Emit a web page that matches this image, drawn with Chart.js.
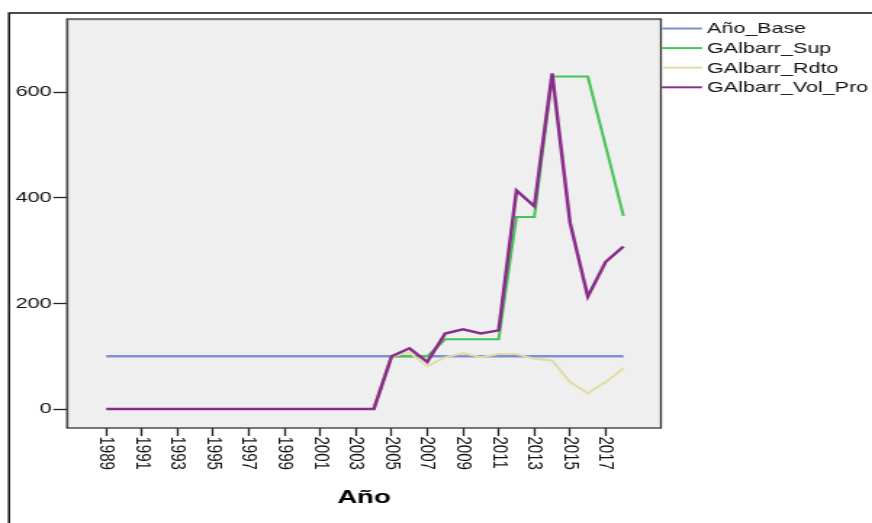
<!DOCTYPE html>
<html>
<head>
<meta charset="utf-8">
<script src="https://cdn.jsdelivr.net/npm/chart.js@4/dist/chart.umd.min.js"></script>
<style>
    html, body { margin: 0; padding: 0; background: #fff; overflow: hidden; }
    /* the reference is stretched sideways, so the whole chart is drawn narrow and widened */
    #wrap { width: 601px; height: 523px; transform: scaleX(1.451); transform-origin: 0 0; }
</style>
</head>
<body>
<div id="wrap"><canvas id="chart"></canvas></div>
<script>
// Years on the x axis
const years = [1989, 1990, 1991, 1992, 1993, 1994, 1995, 1996, 1997, 1998, 1999, 2000, 2001, 2002, 2003,
    2004, 2005, 2006, 2007, 2008, 2009, 2010, 2011, 2012, 2013, 2014, 2015, 2016, 2017, 2018];

// Series values
const anoBase = [100, 100, 100, 100, 100, 100, 100, 100, 100, 100, 100, 100, 100, 100, 100,
    100, 100, 100, 100, 100, 100, 100, 100, 100, 100, 100, 100, 100, 100, 100];
const sup = [0, 0, 0, 0, 0, 0, 0, 0, 0, 0, 0, 0, 0, 0, 0,
    0, 100, 100, 100, 132, 132, 132, 132, 364, 364, 630, 630, 630, 498, 366];
const rdto = [0, 0, 0, 0, 0, 0, 0, 0, 0, 0, 0, 0, 0, 0, 0,
    0, 100, 107, 81, 98, 106, 98, 104, 104, 95, 92, 51, 30, 51, 77];
const volPro = [0, 0, 0, 0, 0, 0, 0, 0, 0, 0, 0, 0, 0, 0, 0,
    0, 100, 115, 89, 143, 151, 143, 149, 414, 384, 636, 353, 213, 279, 308];

// Tick labels
const xTickYears = [1989, 1991, 1993, 1995, 1997, 1999, 2001, 2003, 2005, 2007, 2009, 2011, 2013, 2015, 2017];
const yTicks = [0, 200, 400, 600];

const seriesNames = ['Año_Base', 'GAlbarr_Sup', 'GAlbarr_Rdto', 'GAlbarr_Vol_Pro'];
const seriesColors = ['#7f91d6', '#46c454', '#e2dca4', '#8a2d8a'];
const seriesValues = [anoBase, sup, rdto, volPro];
const seriesWidths = [2.4, 2, 2, 2.5];

const FONT = '"Liberation Sans", Arial, sans-serif';
Chart.defaults.font.family = FONT;

// Plot background, frames, rotated year labels and legend
const decor = {
    id: 'decor',
    beforeDraw(chart) {
        const { ctx, chartArea: a } = chart;
        ctx.save();
        ctx.fillStyle = '#fff';
        ctx.fillRect(0, 0, chart.width, chart.height);
        ctx.fillStyle = '#efefef';
        ctx.fillRect(a.left, a.top, a.right - a.left, a.bottom - a.top);
        ctx.strokeStyle = '#d4d4d4';
        ctx.lineWidth = 1;
        ctx.beginPath();
        ctx.moveTo(a.left + 1.3, a.bottom);
        ctx.lineTo(a.left + 1.3, a.top + 1.3);
        ctx.lineTo(a.right, a.top + 1.3);
        ctx.stroke();
        ctx.restore();
    },
    afterDraw(chart) {
        const { ctx, chartArea: a } = chart;
        ctx.save();
        // outer frame
        ctx.strokeStyle = '#111';
        ctx.lineWidth = 1.5;
        ctx.strokeRect(6.2, 13, 700, 600);
        // plot border
        ctx.strokeStyle = '#333';
        ctx.lineWidth = 1.3;
        ctx.strokeRect(a.left, a.top, a.right - a.left, a.bottom - a.top);

        // year labels, turned clockwise
        const xs = chart.scales.x;
        ctx.fillStyle = '#111';
        ctx.font = '15px ' + FONT;
        ctx.textAlign = 'left';
        ctx.textBaseline = 'middle';
        xTickYears.forEach(yr => {
            ctx.save();
            ctx.translate(xs.getPixelForValue(yr), a.bottom + 8.5);
            ctx.rotate(Math.PI / 2);
            ctx.fillText(String(yr), 0, 0);
            ctx.restore();
        });

        // legend
        ctx.font = '14.8px ' + FONT;
        chart.data.datasets.forEach((ds, i) => {
            const y = 28.5 + i * 19.6;
            ctx.strokeStyle = ds.borderColor;
            ctx.lineWidth = 2;
            ctx.beginPath();
            ctx.moveTo(456.2, y);
            ctx.lineTo(483.8, y);
            ctx.stroke();
            ctx.fillStyle = '#111';
            ctx.fillText(ds.label, 487.3, y + 0.8);
        });
        ctx.restore();
    }
};

new Chart(document.getElementById('chart'), {
    type: 'line',
    data: {
        datasets: seriesNames.map((name, i) => ({
            label: name,
            data: years.map((yr, j) => ({ x: yr, y: seriesValues[i][j] })),
            borderColor: seriesColors[i],
            backgroundColor: seriesColors[i],
            borderWidth: seriesWidths[i],
            pointRadius: 0,
            tension: 0,
            fill: false,
            order: 3 - i
        }))
    },
    options: {
        responsive: true,
        maintainAspectRatio: false,
        animation: false,
        events: [],
        layout: { padding: { top: 19, right: 145.5, left: 0, bottom: 0 } },
        plugins: {
            legend: { display: false },
            tooltip: { enabled: false }
        },
        scales: {
            x: {
                type: 'linear',
                min: 1986.8,
                max: 2020.1,
                afterBuildTicks: scale => { scale.ticks = xTickYears.map(v => ({ value: v })); },
                afterFit: scale => { scale.height = 95; },
                ticks: { display: false },
                grid: { drawOnChartArea: false, drawTicks: true, tickLength: 8, tickColor: '#222', tickWidth: 1.3 },
                border: { display: false },
                title: {
                    display: true,
                    text: 'Año',
                    color: '#000',
                    font: { size: 19, weight: 'bold' },
                    padding: { top: 0, bottom: 13.6 }
                }
            },
            y: {
                min: -36,
                max: 739,
                afterBuildTicks: scale => { scale.ticks = yTicks.map(v => ({ value: v })); },
                afterFit: scale => { scale.width = 46.2; },
                ticks: { color: '#111', font: { size: 15 }, padding: 1 },
                grid: { drawOnChartArea: false, drawTicks: true, tickLength: 9.5, tickColor: '#222', tickWidth: 1.3 },
                border: { display: false }
            }
        }
    },
    plugins: [decor]
});
</script>
</body>
</html>
